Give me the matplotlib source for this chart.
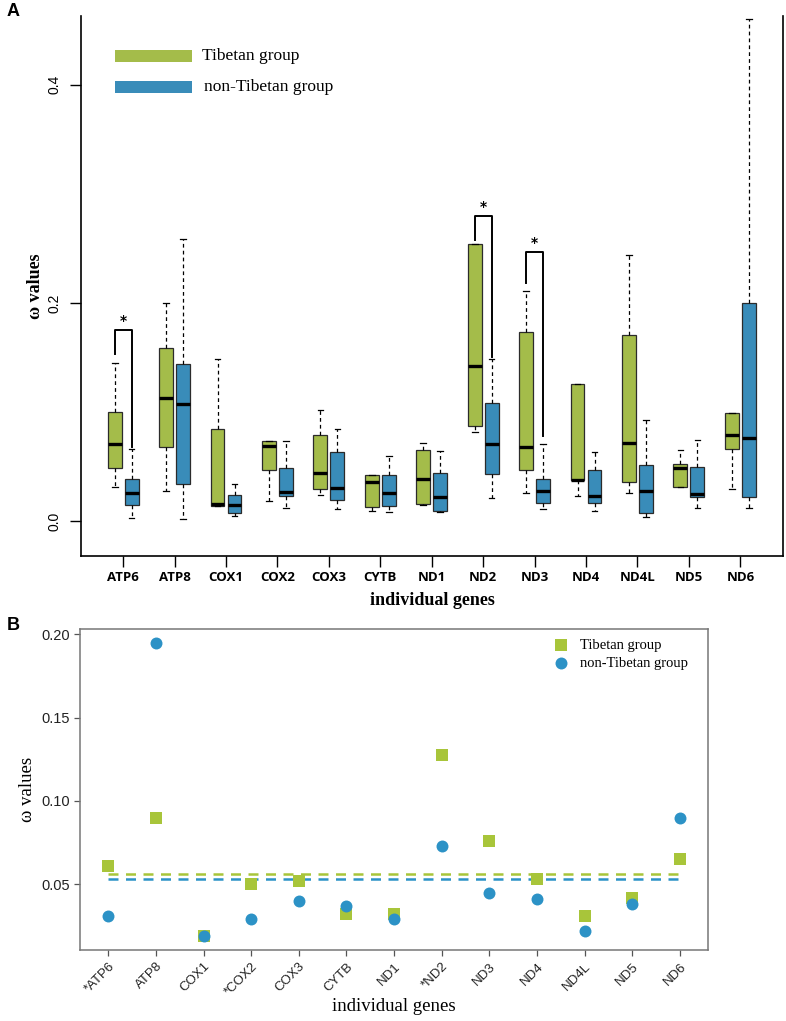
import matplotlib.pyplot as plt
import numpy as np
from matplotlib.patches import Rectangle

genes = ['ATP6', 'ATP8', 'COX1', 'COX2', 'COX3', 'CYTB', 'ND1',
         'ND2', 'ND3', 'ND4', 'ND4L', 'ND5', 'ND6']
genes_b = ['*ATP6', 'ATP8', 'COX1', '*COX2', 'COX3', 'CYTB', 'ND1',
           '*ND2', 'ND3', 'ND4', 'ND4L', 'ND5', 'ND6']

# panel A box stats: whisker low, q1, median, q3, whisker high
tib_box = [
    (0.031, 0.049, 0.071, 0.100, 0.145),
    (0.028, 0.068, 0.113, 0.159, 0.200),
    (0.0135, 0.014, 0.016, 0.084, 0.149),
    (0.018, 0.047, 0.069, 0.073, 0.0735),
    (0.024, 0.029, 0.044, 0.079, 0.102),
    (0.0095, 0.0125, 0.036, 0.042, 0.042),
    (0.0144, 0.016, 0.0385, 0.065, 0.072),
    (0.082, 0.087, 0.142, 0.254, 0.254),
    (0.026, 0.047, 0.068, 0.173, 0.211),
    (0.023, 0.038, 0.038, 0.126, 0.126),
    (0.026, 0.036, 0.072, 0.171, 0.244),
    (0.031, 0.031, 0.049, 0.052, 0.065),
    (0.029, 0.066, 0.079, 0.099, 0.099),
]
non_box = [
    (0.0025, 0.0144, 0.026, 0.039, 0.066),
    (0.002, 0.034, 0.107, 0.144, 0.259),
    (0.0043, 0.007, 0.0147, 0.0236, 0.0336),
    (0.012, 0.023, 0.0266, 0.0486, 0.073),
    (0.011, 0.019, 0.030, 0.063, 0.084),
    (0.008, 0.0138, 0.026, 0.0425, 0.060),
    (0.008, 0.009, 0.0217, 0.044, 0.064),
    (0.021, 0.043, 0.0706, 0.108, 0.149),
    (0.0107, 0.017, 0.028, 0.039, 0.0706),
    (0.009, 0.017, 0.0226, 0.0465, 0.063),
    (0.004, 0.0076, 0.028, 0.051, 0.093),
    (0.012, 0.0217, 0.025, 0.050, 0.0746),
    (0.012, 0.022, 0.076, 0.200, 0.460),
]
# significance brackets: gene index, left leg bottom, top, right leg bottom
sig = [(0, 0.153, 0.175, 0.068),
       (7, 0.258, 0.2795, 0.1508),
       (8, 0.218, 0.2465, 0.0783)]

# panel B omega values
tib_w = [0.0608, 0.0898, 0.0188, 0.0498, 0.052, 0.032, 0.0322,
         0.1278, 0.0758, 0.053, 0.031, 0.0414, 0.0648]
non_w = [0.0308, 0.1948, 0.0188, 0.0288, 0.0398, 0.037, 0.0288,
         0.0728, 0.0448, 0.0408, 0.0218, 0.038, 0.0898]

green_a = '#a4bc4a'
blue_a = '#398cb9'
green_b = '#a8c53a'
blue_b = '#2c92c6'
serif = 'Liberation Serif'

fig = plt.figure(figsize=(7.86, 10.21), dpi=100)

def fx(px):
    return px / 786

def fy(py):
    return 1 - py / 1021

# ---------------- panel A
ax = fig.add_axes([fx(81), fy(556), fx(783) - fx(81), fy(16) - fy(556)])
pos = np.arange(1, len(genes) + 1)
off = 0.165

def to_stats(rows):
    return [dict(whislo=r[0], q1=r[1], med=r[2], q3=r[3], whishi=r[4], fliers=[]) for r in rows]

for rows, shift, col in [(tib_box, -off, green_a), (non_box, off, blue_a)]:
    ax.bxp(to_stats(rows), positions=pos + shift, widths=0.27, patch_artist=True,
           showfliers=False, manage_ticks=False, capwidths=0.11,
           boxprops=dict(facecolor=col, edgecolor='#2b2b2b', linewidth=0.9),
           medianprops=dict(color='black', linewidth=2.4, solid_capstyle='butt'),
           whiskerprops=dict(color='black', linewidth=0.9, linestyle=(0, (3, 2.5))),
           capprops=dict(color='black', linewidth=0.9))

for gi, lb, top, rb in sig:
    xl, xr = pos[gi] - off, pos[gi] + off
    ax.plot([xl, xl, xr, xr], [lb, top, top, rb], color='black', lw=1.4)
    ax.text((xl + xr) / 2, top + 0.002, '*', ha='center', va='bottom',
            fontsize=10, fontweight='bold')

ax.set_xlim(0.18, 13.83)
ax.set_ylim(-0.032, 0.463)
ax.set_xticks(pos)
ax.set_xticklabels(genes, fontfamily='Open Sans', fontweight='bold', fontsize=9.5)
ax.set_yticks([0.0, 0.2, 0.4])
ax.set_yticklabels(['0.0', '0.2', '0.4'], rotation=90, va='center',
                   fontfamily='Liberation Sans', fontsize=10)
ax.tick_params(axis='both', direction='out', length=8, width=1, color='black')
ax.tick_params(axis='x', pad=3)
ax.tick_params(axis='y', pad=6)
ax.spines['top'].set_visible(False)
for s in ['left', 'bottom', 'right']:
    ax.spines[s].set_linewidth(1.2)
ax.set_xlabel('individual genes', fontfamily=serif, fontweight='bold', fontsize=13)
ax.xaxis.set_label_coords(0.5, (556 - 600) / 540)
ax.xaxis.label.set_va('center')
ax.set_ylabel('ω values', fontfamily=serif, fontweight='bold', fontsize=13)
ax.yaxis.set_label_coords((35 - 81) / 702, 0.5)
ax.yaxis.label.set_va('center')

# legend A
for py, col, lab, tx in [(50, green_a, 'Tibetan group', 202), (81, blue_a, 'non-Tibetan group', 204)]:
    fig.add_artist(Rectangle((fx(115), fy(py + 12)), fx(77), fy(py) - fy(py + 12),
                             transform=fig.transFigure, facecolor=col, edgecolor='none'))
    fig.text(fx(tx), fy(py + 6), lab, fontfamily=serif, fontsize=12.5, va='center')

fig.text(fx(7), fy(11), 'A', fontfamily='Liberation Sans', fontweight='bold', fontsize=13, va='center')

# ---------------- panel B
bx = fig.add_axes([fx(80), fy(950), fx(708) - fx(80), fy(628.7) - fy(950)])
bx.scatter(pos, tib_w, marker='s', s=64, color=green_b, label='Tibetan group', zorder=3, linewidths=0)
bx.scatter(pos, non_w, marker='o', s=74, color=blue_b, label='non-Tibetan group', zorder=3, linewidths=0)
bx.plot([pos[0], pos[-1]], [np.mean(tib_w)] * 2, color=green_b, lw=1.8, ls=(0, (4, 3)), zorder=2)
bx.plot([pos[0], pos[-1]], [np.mean(non_w)] * 2, color=blue_b, lw=1.8, ls=(0, (4, 3)), zorder=2)

bx.set_xlim(0.405, 13.59)
bx.set_ylim(0.0104, 0.2034)
bx.set_xticks(pos)
bx.set_xticklabels(genes_b, rotation=45, ha='right', rotation_mode='anchor',
                   fontfamily='Liberation Sans', fontsize=9.5, color='#222222')
bx.set_yticks([0.05, 0.10, 0.15, 0.20])
bx.set_yticklabels(['0.05', '0.10', '0.15', '0.20'], fontfamily='Liberation Sans',
                   fontsize=10.5, color='#222222')
bx.tick_params(axis='both', direction='out', length=4, width=0.9, color='#555555')
for s in bx.spines.values():
    s.set_color('#777777')
    s.set_linewidth(1.1)
bx.set_xlabel('individual genes', fontfamily=serif, fontsize=13.5)
bx.xaxis.set_label_coords(0.5, (950 - 1006) / 321.3)
bx.xaxis.label.set_va('center')
bx.set_ylabel('ω values', fontfamily=serif, fontsize=13.5)
bx.yaxis.set_label_coords((27 - 80) / 628, 0.5)
bx.yaxis.label.set_va('center')
bx.legend(loc='upper right', frameon=False, prop={'family': serif, 'size': 10.5},
          handletextpad=0.3, borderaxespad=0.3, labelspacing=0.3,
          bbox_to_anchor=(0.985, 1.0))

fig.text(fx(7), fy(625), 'B', fontfamily='Liberation Sans', fontweight='bold', fontsize=13, va='center')

fig.savefig('out.png', dpi=100)
